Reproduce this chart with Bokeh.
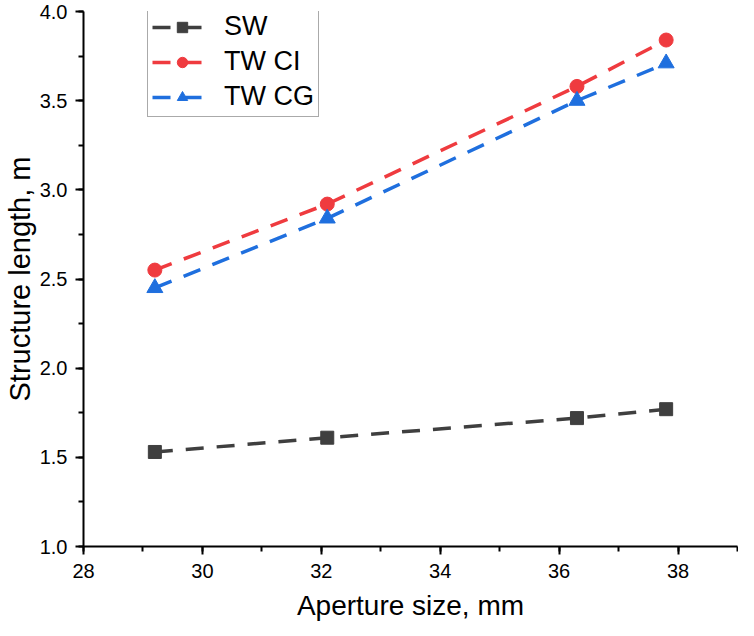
from bokeh.plotting import figure
from bokeh.embed import file_html
from bokeh.resources import INLINE
from bokeh.models import Legend, LegendItem, Range1d, FixedTicker, NumeralTickFormatter

aperture = [29.2, 32.1, 36.3, 37.8]
sw = [1.53, 1.61, 1.72, 1.77]
tw_ci = [2.55, 2.92, 3.58, 3.84]
tw_cg = [2.45, 2.84, 3.50, 3.71]
series_names = ["SW", "TW CI", "TW CG"]
x_ticks = [28, 30, 32, 34, 36, 38]
y_ticks = [1.0, 1.5, 2.0, 2.5, 3.0, 3.5, 4.0]

FONT = "Liberation Sans"

p = figure(width=738, height=627, output_backend="svg", toolbar_location=None,
           x_range=Range1d(28, 39), y_range=Range1d(1.0, 4.0),
           min_border_left=78, min_border_right=1, min_border_top=11, min_border_bottom=81)
p.outline_line_color = None
p.xgrid.visible = False
p.ygrid.visible = False
p.background_fill_color = "white"
p.border_fill_color = "white"

for ax in (p.xaxis[0], p.yaxis[0]):
    ax.axis_line_color = "black"
    ax.axis_line_width = 2
    ax.major_tick_line_color = "black"
    ax.major_tick_line_width = 2
    ax.minor_tick_line_color = "black"
    ax.minor_tick_line_width = 2
    ax.major_tick_in = 0
    ax.major_tick_out = 8
    ax.minor_tick_in = 0
    ax.minor_tick_out = 5
    ax.major_label_text_font = FONT
    ax.major_label_text_font_size = "20px"
    ax.major_label_text_color = "black"
    ax.axis_label_text_font = FONT
    ax.axis_label_text_font_size = "28px"
    ax.axis_label_text_font_style = "normal"
    ax.axis_label_text_color = "black"

p.yaxis[0].axis_label_text_font_size = "29px"
p.xaxis[0].ticker = FixedTicker(ticks=x_ticks, minor_ticks=list(range(28, 40)))
p.yaxis[0].ticker = FixedTicker(ticks=y_ticks, minor_ticks=[1.0 + 0.25 * i for i in range(13)])
p.yaxis[0].formatter = NumeralTickFormatter(format="0.0")
p.xaxis[0].axis_label = "Aperture size, mm"
p.yaxis[0].axis_label = "Structure length, m"
p.xaxis[0].major_label_standoff = 9
p.yaxis[0].major_label_standoff = 8
p.xaxis[0].axis_label_standoff = 9
p.yaxis[0].axis_label_standoff = 1

colors = ["#3f3f3f", "#ef3b3f", "#1f6fde"]
markers = ["square", "circle", "triangle"]
sizes = [13, 14, 16]
values = [sw, tw_ci, tw_cg]
items = []
for name, vals, c, m, s in zip(series_names, values, colors, markers, sizes):
    ln = p.line(aperture, vals, line_color=c, line_width=3.5, line_dash="18 13")
    sc = p.scatter(aperture, vals, marker=m, size=s, fill_color=c, line_color=c)
    items.append(LegendItem(label=name, renderers=[ln, sc]))

legend = Legend(items=items, location=(64, 429))
legend.label_text_font = FONT
legend.label_text_font_size = "27px"
legend.label_text_color = "black"
legend.glyph_width = 60
legend.glyph_height = 26
legend.label_height = 26
legend.label_standoff = 12
legend.spacing = 4
legend.padding = 4
legend.border_line_color = "#555555"
legend.border_line_width = 1.5
legend.background_fill_color = "white"
legend.background_fill_alpha = 1.0
p.add_layout(legend, "center")

open("out.html", "w").write(file_html(p, INLINE))
